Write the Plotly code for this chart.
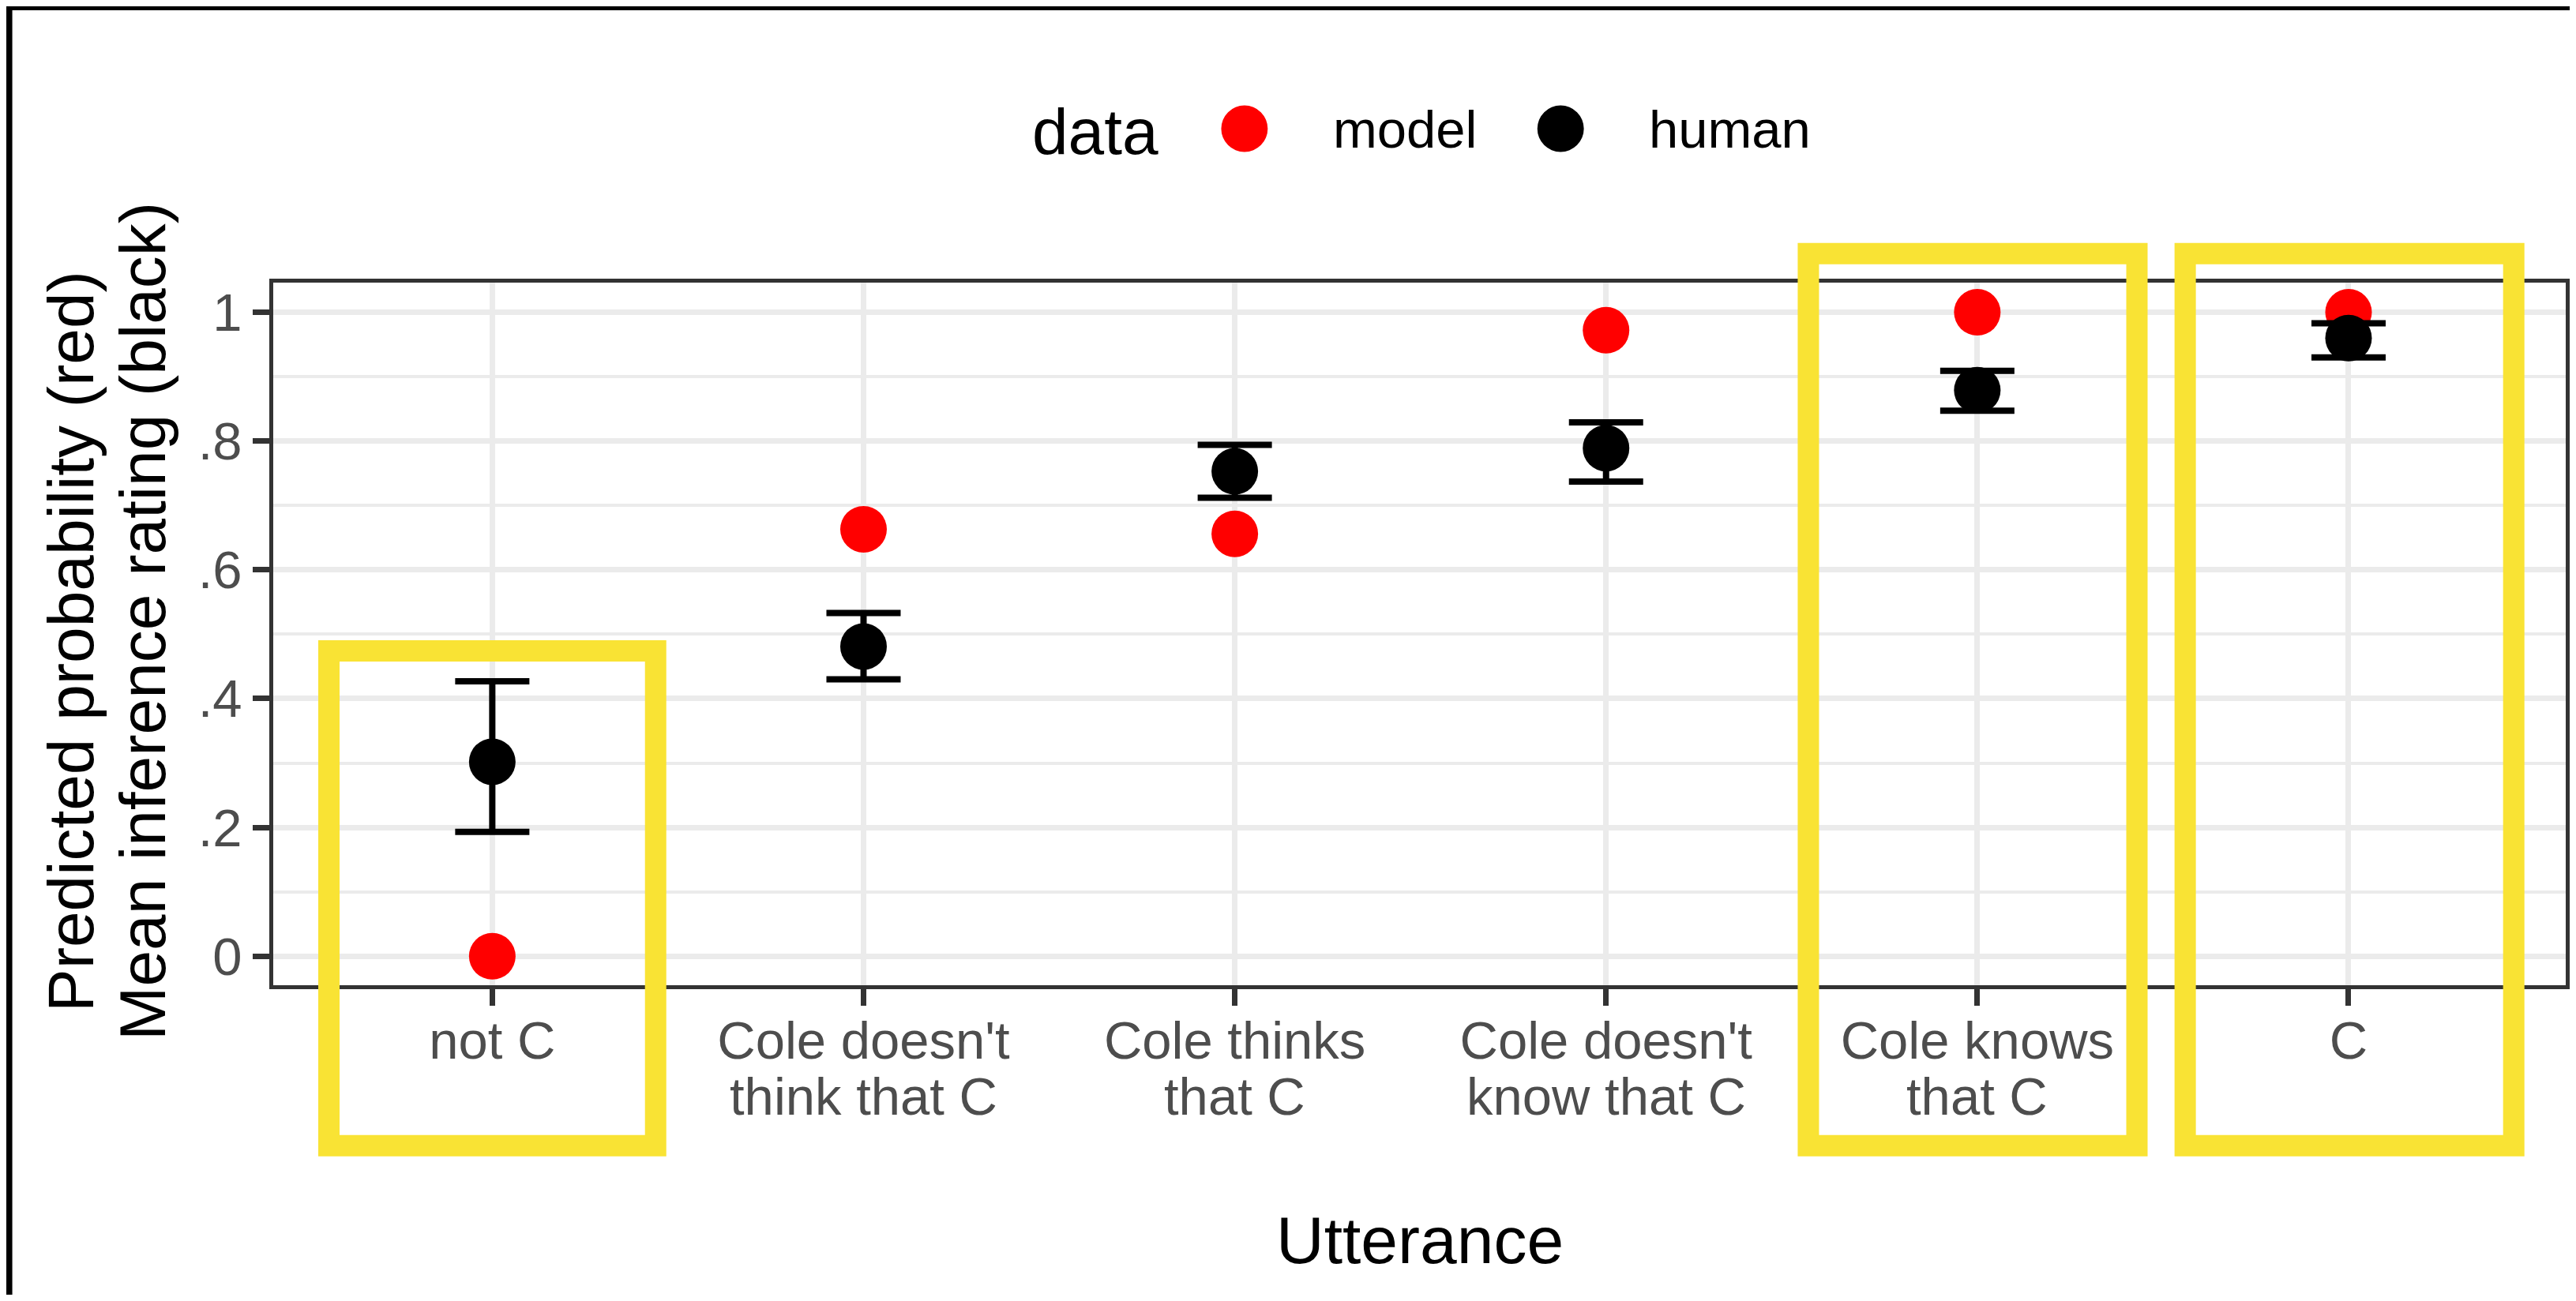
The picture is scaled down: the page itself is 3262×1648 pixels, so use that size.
import plotly.graph_objects as go

# ---------------- data ----------------
categories = ["not C", "Cole doesn't think that C", "Cole thinks that C",
              "Cole doesn't know that C", "Cole knows that C", "C"]
tick_line1 = ["not C", "Cole doesn't", "Cole thinks", "Cole doesn't", "Cole knows", "C"]
tick_line2 = ["", "think that C", "that C", "know that C", "that C", ""]
model_values = [0.0, 0.663, 0.656, 0.972, 1.0, 1.0]
human_values = [0.302, 0.481, 0.753, 0.789, 0.879, 0.960]
human_upper = [0.427, 0.533, 0.794, 0.829, 0.909, 0.983]
human_lower = [0.193, 0.430, 0.712, 0.737, 0.847, 0.930]
y_tick_values = [0, 0.2, 0.4, 0.6, 0.8, 1.0]
y_tick_text = ["0", ".2", ".4", ".6", ".8", "1"]
y_minor_values = [0.1, 0.3, 0.5, 0.7, 0.9]

# highlighted utterances (category index, left/right offsets, top, bottom in data units)
highlight_index = [0, 4, 5]
highlight_left = [-0.44, -0.455, -0.44]
highlight_right = [0.44, 0.43, 0.445]
highlight_top = [0.474, 1.091, 1.091]
highlight_bottom = [-0.294, -0.294, -0.294]

# ---------------- style ----------------
OFF = 8                       # page body margin
PAGE_W, PAGE_H = 3262, 1648
W, H = PAGE_W - 2 * OFF, PAGE_H - 2 * OFF
ML, MR, MT, MB = 338, 0, 350, 392
XR = [-0.59, 5.585]
YR = [-0.045, 1.046]
FONT = "Liberation Sans, Arial, Helvetica, sans-serif"
RED, BLACK, YELLOW = "#FF0000", "#000000", "#F9E334"
GRID = "#EBEBEB"
AXIS = "#333333"
TICKTXT = "#4D4D4D"
CLEAR = "rgba(0,0,0,0)"

PW, PH = W - ML - MR, H - MT - MB


def px_x(page_px):
    return (page_px - OFF - ML) / PW


def px_y(page_py):
    return (H - MB - (page_py - OFF)) / PH


def dx(v):
    return (v - XR[0]) / (XR[1] - XR[0])


def dy(v):
    return (v - YR[0]) / (YR[1] - YR[0])


fig = go.Figure()
fig.add_trace(go.Scatter(
    x=categories, y=model_values, mode="markers", name="model",
    marker=dict(color=RED, size=59, line=dict(width=0)), showlegend=False))
fig.add_trace(go.Scatter(
    x=categories, y=human_values, mode="markers", name="human",
    marker=dict(color=BLACK, size=59, line=dict(width=0)),
    error_y=dict(type="data", symmetric=False,
                 array=[u - m for u, m in zip(human_upper, human_values)],
                 arrayminus=[m - l for m, l in zip(human_values, human_lower)],
                 color=BLACK, thickness=8, width=47),
    showlegend=False))

shapes = []
for i, lo, hi, top, bot in zip(highlight_index, highlight_left, highlight_right,
                               highlight_top, highlight_bottom):
    shapes.append(dict(type="rect", xref="paper", yref="paper",
                       x0=dx(i + lo), x1=dx(i + hi), y0=dy(bot), y1=dy(top),
                       line=dict(color=YELLOW, width=27), fillcolor=CLEAR,
                       layer="above"))
# black frame edges (top / left)
shapes.append(dict(type="rect", xref="paper", yref="paper", x0=px_x(0), x1=px_x(PAGE_W),
                   y0=px_y(13), y1=px_y(0), fillcolor="black", line=dict(width=0)))
shapes.append(dict(type="rect", xref="paper", yref="paper", x0=px_x(0), x1=px_x(15),
                   y0=px_y(PAGE_H), y1=px_y(0), fillcolor="black", line=dict(width=0)))

# legend keys
legend_key_x = [1578, 1979]
legend_key_colors = [RED, BLACK]
legend_labels = ["model", "human"]
legend_label_x = [1688, 2089]
r = 29.5
for cx, col in zip(legend_key_x, legend_key_colors):
    shapes.append(dict(type="circle", xref="paper", yref="paper",
                       x0=px_x(cx - r), x1=px_x(cx + r), y0=px_y(163 + r), y1=px_y(163 - r),
                       fillcolor=col, line=dict(width=0)))

annotations = []
annotations.append(dict(text="data", xref="paper", yref="paper", x=px_x(1307), y=px_y(166),
                        xanchor="left", yanchor="middle", showarrow=False,
                        font=dict(family=FONT, size=82, color="black")))
for lx, lab in zip(legend_label_x, legend_labels):
    annotations.append(dict(text=lab, xref="paper", yref="paper", x=px_x(lx), y=px_y(164),
                            xanchor="left", yanchor="middle", showarrow=False,
                            font=dict(family=FONT, size=67, color="black")))
# second line of the category labels
for cat, txt in zip(categories, tick_line2):
    if txt:
        annotations.append(dict(text=txt, xref="x", yref="paper", x=cat, y=px_y(1388),
                                xanchor="center", yanchor="middle", showarrow=False,
                                font=dict(family=FONT, size=67, color=TICKTXT)))
annotations.append(dict(text="Utterance", xref="paper", yref="paper", x=px_x(1801), y=px_y(1571),
                        xanchor="center", yanchor="middle", showarrow=False,
                        font=dict(family=FONT, size=84, color="black")))
annotations.append(dict(text="Predicted probability (red)", xref="paper", yref="paper",
                        x=px_x(88.6), y=px_y(813), textangle=-90,
                        xanchor="center", yanchor="middle", showarrow=False,
                        font=dict(family=FONT, size=82, color="black")))
annotations.append(dict(text="Mean inference rating (black)", xref="paper", yref="paper",
                        x=px_x(179.6), y=px_y(787), textangle=-90,
                        xanchor="center", yanchor="middle", showarrow=False,
                        font=dict(family=FONT, size=82, color="black")))

fig.update_layout(
    width=W, height=H,
    margin=dict(l=ML, r=MR, t=MT, b=MB, pad=0),
    paper_bgcolor="white", plot_bgcolor="white",
    font=dict(family=FONT, color=TICKTXT),
    showlegend=False,
    shapes=shapes, annotations=annotations,
    xaxis=dict(type="category", categoryorder="array", categoryarray=categories,
               range=XR, tickvals=categories, ticktext=tick_line1,
               tickfont=dict(family=FONT, size=67, color=TICKTXT),
               ticklabelstandoff=-13,
               showline=True, mirror=True, linecolor=AXIS, linewidth=5,
               ticks="outside", ticklen=21, tickwidth=7, tickcolor=AXIS,
               showgrid=True, gridcolor=GRID, gridwidth=7, zeroline=False),
    yaxis=dict(range=YR, tickvals=y_tick_values, ticktext=y_tick_text,
               tickfont=dict(family=FONT, size=67, color=TICKTXT),
               showline=True, mirror=True, linecolor=AXIS, linewidth=5,
               ticks="outside", ticklen=21, tickwidth=7, tickcolor=AXIS,
               showgrid=True, gridcolor=GRID, gridwidth=7, zeroline=False,
               minor=dict(tickvals=y_minor_values, showgrid=True, gridcolor=GRID,
                          gridwidth=3.6, ticks="")),
)

fig.write_html("out.html")
